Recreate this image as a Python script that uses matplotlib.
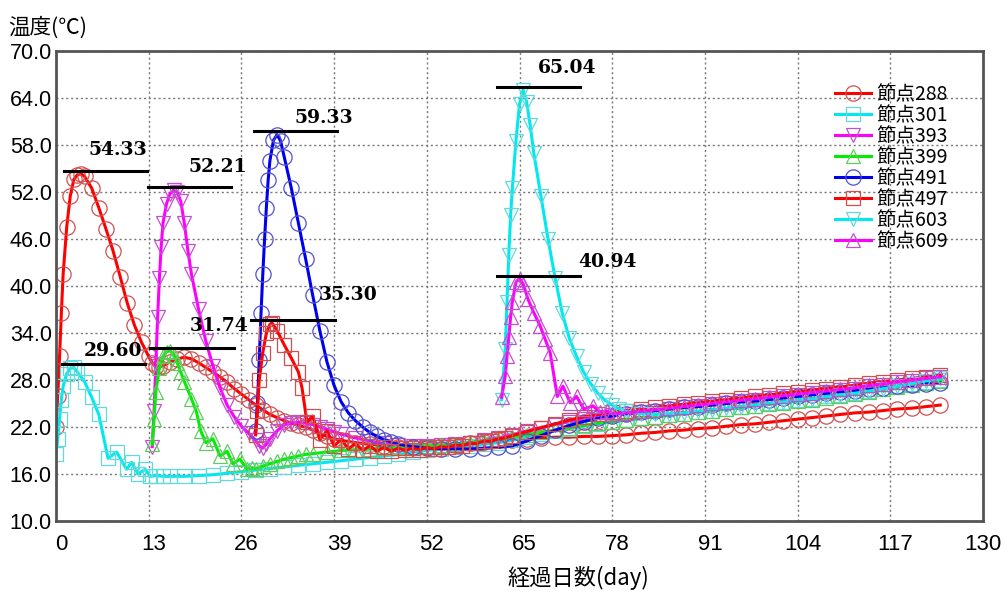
import matplotlib
matplotlib.use("Agg")
import matplotlib.pyplot as plt
import matplotlib.transforms as mtransforms
import numpy as np

plt.rcParams['font.family'] = ['Noto Sans CJK JP', 'DejaVu Sans']

# ---- データ ----
d288 = [0, 0.25, 0.5, 0.75, 1, 1.5, 2, 2.5, 3, 3.5, 4, 5, 6, 7, 8, 9, 10, 11, 12, 13,
        13.5, 14, 14.5, 15, 16, 17, 18, 19, 20, 21, 22, 23, 24, 25, 26, 27, 28, 29, 30,
        31, 32, 33, 34, 35, 36, 37, 38, 39, 40, 42, 44, 46, 48, 50, 52, 54, 56, 58, 60,
        62, 64, 66, 68, 70, 72, 74, 76, 78, 80, 82, 84, 86, 88, 90, 92, 94, 96, 98, 100,
        102, 104, 106, 108, 110, 112, 114, 116, 118, 120, 122, 124]
t288 = [22.0, 26.0, 31.0, 36.5, 41.5, 47.5, 51.5, 53.6, 54.2, 54.33, 54.0, 52.5, 50.0, 47.3,
        44.5, 41.2, 37.8, 35.0, 32.8, 31.0, 30.2, 29.8, 29.7, 29.8, 30.3, 30.7, 30.9, 30.7,
        30.2, 29.6, 29.0, 28.4, 27.7, 26.9, 26.2, 25.5, 24.8, 24.2, 23.6, 23.2, 22.8, 22.5,
        22.2, 22.0, 21.6, 21.2, 20.8, 20.5, 20.3, 20.0, 19.8, 19.6, 19.5, 19.5, 19.5, 19.6,
        19.7, 19.9, 20.1, 20.3, 20.4, 20.5, 20.6, 20.7, 20.7, 20.8, 20.8, 20.9, 21.0, 21.2,
        21.3, 21.5, 21.6, 21.8, 21.9, 22.1, 22.3, 22.4, 22.6, 22.8, 23.0, 23.2, 23.4, 23.6,
        23.8, 23.9, 24.1, 24.3, 24.4, 24.6, 24.8]

d301 = [0, 0.25, 0.5, 0.75, 1, 1.5, 2, 2.5, 3, 4, 5, 6, 7.3, 8.5, 9.9, 10.6, 11.5, 12.5,
        13.2, 14, 15, 16, 18, 20, 22, 24, 26, 28, 30, 32, 34, 36, 38, 40, 42, 44, 46, 48,
        50, 52, 54, 56, 58, 60, 62, 64, 66, 68, 70, 72, 74, 76, 78, 80, 82, 84, 86, 88, 90,
        92, 94, 96, 98, 100, 102, 104, 106, 108, 110, 112, 114, 116, 118, 120, 122, 124]
t301 = [18.5, 20.5, 23.0, 25.5, 27.2, 28.8, 29.5, 29.6, 29.0, 27.8, 25.8, 23.6, 18.0, 18.8,
        16.6, 17.5, 16.0, 16.6, 15.7, 15.8, 15.7, 15.7, 15.7, 15.8, 15.9, 16.1, 16.3, 16.5,
        16.7, 16.9, 17.1, 17.3, 17.5, 17.7, 17.9, 18.1, 18.3, 18.5, 18.8, 19.0, 19.2, 19.4,
        19.6, 19.8, 20.0, 20.3, 20.7, 21.1, 21.5, 21.8, 22.1, 22.4, 22.7, 22.9, 23.1, 23.3,
        23.5, 23.7, 23.9, 24.1, 24.3, 24.5, 24.7, 25.0, 25.2, 25.4, 25.6, 25.9, 26.1, 26.4,
        26.6, 26.9, 27.2, 27.5, 27.8, 28.0]

d393 = [13.5, 13.75, 14, 14.25, 14.5, 14.75, 15, 15.5, 16, 16.5, 17, 17.5, 18, 18.5, 19, 20,
        21, 22, 23, 24, 25, 26, 27, 28, 28.5, 29, 29.5, 30, 31, 32, 33, 34, 35, 36, 37, 38,
        39, 40, 42, 44, 46, 48, 50, 52, 54, 56, 58, 60, 62, 64, 66, 68, 70, 72, 74, 76, 78,
        80, 82, 84, 86, 88, 90, 92, 94, 96, 98, 100, 102, 104, 106, 108, 110, 112, 114, 116,
        118, 120, 122, 124]
t393 = [19.5, 24.0, 30.0, 36.0, 41.0, 45.0, 48.0, 50.5, 51.8, 52.21, 52.0, 50.8, 48.0, 44.5,
        41.5, 37.0, 33.0, 29.8, 27.0, 24.8, 23.3, 22.1, 21.2, 20.3, 19.6, 19.3, 19.8, 20.5,
        21.5, 22.3, 22.5, 22.6, 22.5, 22.3, 22.0, 21.7, 21.4, 21.1, 20.6, 20.2, 19.9, 19.7,
        19.6, 19.6, 19.7, 19.8, 20.0, 20.3, 20.6, 21.0, 21.5, 21.9, 22.3, 22.7, 23.0, 23.3,
        23.5, 23.7, 23.9, 24.1, 24.3, 24.5, 24.7, 24.9, 25.1, 25.3, 25.5, 25.7, 25.9, 26.1,
        26.3, 26.5, 26.7, 26.9, 27.2, 27.4, 27.7, 27.9, 28.2, 28.4]

d399 = [13.5, 13.75, 14, 14.5, 15, 15.5, 16, 16.5, 17, 17.5, 18, 19, 19.7, 20.3, 21, 22, 23,
        24, 24.8, 25.8, 26.8, 27.5, 28, 29, 30, 31, 32, 33, 34, 35, 36, 38, 40, 42, 44, 46,
        48, 50, 52, 54, 56, 58, 60, 62, 64, 66, 68, 70, 72, 74, 76, 78, 80, 82, 84, 86, 88,
        90, 92, 94, 96, 98, 100, 102, 104, 106, 108, 110, 112, 114, 116, 118, 120, 122, 124]
t399 = [19.8, 23.0, 26.5, 29.5, 31.0, 31.6, 31.74, 31.2, 30.2, 29.0, 27.8, 25.6, 23.9, 21.5,
        20.0, 20.5, 18.3, 18.9, 17.3, 17.9, 16.6, 16.8, 16.7, 17.0, 17.3, 17.6, 17.9, 18.1,
        18.3, 18.5, 18.6, 18.8, 19.0, 19.1, 19.2, 19.3, 19.4, 19.5, 19.6, 19.7, 19.8, 20.0,
        20.2, 20.4, 20.7, 21.0, 21.3, 21.6, 21.9, 22.2, 22.5, 22.7, 22.9, 23.1, 23.3, 23.5,
        23.7, 23.9, 24.1, 24.3, 24.5, 24.7, 24.9, 25.1, 25.3, 25.5, 25.7, 26.0, 26.2, 26.5,
        26.8, 27.1, 27.4, 27.6, 27.9]

d491 = [28, 28.25, 28.5, 28.75, 29, 29.25, 29.5, 29.75, 30, 30.5, 31, 31.5, 32, 33, 34, 35,
        36, 37, 38, 39, 40, 41, 42, 43, 44, 45, 46, 47, 48, 50, 52, 54, 56, 58, 60, 62, 64,
        66, 68, 70, 72, 74, 76, 78, 80, 82, 84, 86, 88, 90, 92, 94, 96, 98, 100, 102, 104,
        106, 108, 110, 112, 114, 116, 118, 120, 122, 124]
t491 = [21.5, 25.0, 30.5, 36.5, 41.5, 46.0, 50.0, 53.5, 56.0, 58.6, 59.33, 58.5, 56.5, 52.5,
        48.0, 43.5, 38.8, 34.3, 30.3, 27.3, 25.2, 23.8, 22.8, 22.0, 21.3, 20.8, 20.4, 20.1,
        19.8, 19.5, 19.3, 19.2, 19.2, 19.2, 19.3, 19.4, 19.6, 20.2, 20.9, 21.6, 22.2, 22.7,
        23.1, 23.4, 23.7, 23.9, 24.1, 24.3, 24.5, 24.6, 24.8, 25.0, 25.2, 25.3, 25.5, 25.7,
        25.9, 26.1, 26.3, 26.5, 26.6, 26.8, 27.0, 27.2, 27.3, 27.5, 27.6]

d497 = [28, 28.25, 28.5, 29, 29.5, 30, 30.3, 31, 32, 33, 34, 34.5, 35.2, 36, 37, 38, 39, 40,
        41, 42, 43, 44, 45, 46, 47, 48, 49, 50, 51, 52, 53, 54, 55, 56, 57, 58, 59, 60, 61,
        62, 63, 64, 66, 68, 70, 72, 74, 76, 78, 80, 82, 84, 86, 88, 90, 92, 94, 96, 98, 100,
        102, 104, 106, 108, 110, 112, 114, 116, 118, 120, 122, 124]
t497 = [21.0, 24.0, 28.0, 31.5, 34.0, 35.1, 35.3, 34.3, 32.5, 30.8, 29.0, 27.0, 22.6, 23.4,
        20.4, 21.5, 19.6, 20.4, 19.2, 19.9, 19.0, 19.6, 18.9, 19.4, 18.9, 19.3, 19.0, 19.3,
        19.1, 19.4, 19.2, 19.5, 19.4, 19.7, 19.6, 19.9, 19.9, 20.2, 20.2, 20.5, 20.6, 20.9,
        21.4, 21.9, 22.4, 22.9, 23.3, 23.6, 23.9, 24.1, 24.3, 24.5, 24.7, 24.9, 25.1, 25.3,
        25.5, 25.7, 25.9, 26.1, 26.3, 26.5, 26.7, 26.9, 27.1, 27.3, 27.6, 27.8, 28.0, 28.2,
        28.4, 28.6]

d603 = [62.5, 63, 63.25, 63.5, 63.75, 64, 64.5, 65, 65.5, 66, 66.5, 67, 68, 69, 70, 71, 72,
        73, 74, 75, 76, 77, 78, 79, 80, 82, 84, 86, 88, 90, 92, 94, 96, 98, 100, 102, 104,
        106, 108, 110, 112, 114, 116, 118, 120, 122, 124]
t603 = [25.5, 32.0, 38.0, 44.0, 49.0, 52.5, 58.5, 63.2, 65.04, 63.5, 60.5, 57.0, 51.5, 46.0,
        41.0, 36.5, 33.3, 31.0, 29.0, 27.5, 26.3, 25.4, 24.8, 24.3, 24.0, 23.7, 23.6, 23.7,
        23.8, 24.0, 24.2, 24.4, 24.6, 24.8, 25.0, 25.2, 25.4, 25.6, 25.8, 26.1, 26.3, 26.6,
        26.9, 27.2, 27.5, 27.9, 28.2]

d609 = [62.5, 63, 63.25, 63.5, 63.75, 64, 64.5, 65, 65.5, 66.2, 67, 67.9, 68.6, 69.3, 70.3,
        71.1, 72.1, 73, 74, 75.3, 76.3, 77.3, 78, 80, 82, 84, 86, 88, 90, 92, 94, 96, 98,
        100, 102, 104, 106, 108, 110, 112, 114, 116, 118, 120, 122, 124]
t609 = [25.8, 28.5, 31.0, 33.5, 36.0, 38.0, 40.5, 40.94, 40.3, 38.3, 36.6, 34.9, 33.2, 31.5,
        25.9, 27.2, 25.1, 25.9, 24.3, 24.7, 23.9, 24.0, 23.7, 23.8, 24.0, 24.2, 24.4, 24.6,
        24.8, 25.0, 25.2, 25.4, 25.6, 25.8, 26.0, 26.2, 26.4, 26.6, 26.8, 27.0, 27.3, 27.5,
        27.8, 28.0, 28.2, 28.4]

labels = ["節点288", "節点301", "節点393", "節点399", "節点491", "節点497", "節点603", "節点609"]

# ピーク値の注記
peak_values = [54.33, 52.21, 29.60, 31.74, 59.33, 35.30, 65.04, 40.94]
peak_line_start = [1.1, 12.9, 0.8, 13.2, 27.7, 27.4, 61.8, 61.8]
peak_label_x = [8.7, 22.7, 8.0, 22.9, 37.6, 41.0, 71.7, 77.3]
peak_label_dy = [3.0, 3.0, 2.1, 3.2, 2.1, 3.5, 2.8, 2.1]

xticks = np.arange(0, 131, 13)
yticks = np.arange(10, 71, 6)

# ---- 描画 ----
series = [(d288, t288), (d301, t301), (d393, t393), (d399, t399),
          (d491, t491), (d497, t497), (d603, t603), (d609, t609)]
line_colors = ["#ff0000", "#00e8f0", "#ff00ff", "#00ee00", "#0000ee", "#ff0000", "#00e8f0", "#ff00ff"]
mk_colors = ["#d05050", "#60dada", "#c050d0", "#60cc60", "#5050d0", "#d05050", "#60dada", "#c050d0"]
markers = ["o", "s", "v", "^", "o", "s", "v", "^"]
msizes = [11, 10, 10, 10, 11, 10, 10, 10]

fig = plt.figure(figsize=(10.05, 5.94), dpi=100)
ax = fig.add_axes([56 / 1005, 1 - 521 / 594, (983 - 56) / 1005, (521 - 51) / 594])

for (d, t), lc, mc, mk, ms, lab in zip(series, line_colors, mk_colors, markers, msizes, labels):
    ax.plot(d, t, color=lc, lw=2.2, marker=mk, ms=ms, mfc="none", mec=mc, mew=0.9, label=lab)

for v, x0, lx, dy in zip(peak_values, peak_line_start, peak_label_x, peak_label_dy):
    ax.plot([x0, x0 + 11.7], [v + 0.4, v + 0.4], color="black", lw=2.2)
    ax.text(lx, v + dy, f"{v:.2f}", ha="center", va="center", fontsize=13.5,
            fontweight="bold", family=["DejaVu Serif"])

ax.set_xlim(0, 130)
ax.set_ylim(10, 70)
ax.set_xticks(xticks)
ax.set_yticks(yticks)
ax.set_yticklabels([f"{y:.1f}" for y in yticks], fontsize=15.5, family=["Liberation Sans", "DejaVu Sans"])
ax.set_xticklabels([str(x) for x in xticks], fontsize=16, family=["Liberation Sans Narrow", "Liberation Sans"])
ax.tick_params(length=0)
ax.tick_params(axis="x", pad=9)
ax.tick_params(axis="y", pad=3)
# 目盛ラベルを少し右へ（最後の130は枠内に収める）
shift = mtransforms.ScaledTranslation(5 / 100, 0, fig.dpi_scale_trans)
for lbl in ax.get_xticklabels()[:-1]:
    lbl.set_transform(lbl.get_transform() + shift)
ax.grid(color="#777777", linestyle=(0, (1.5, 2)), linewidth=1)
for sp in ax.spines.values():
    sp.set_color("#555555")
    sp.set_linewidth(2)

fig.text(8 / 1005, 1 - 28 / 594, "温度(℃)", fontsize=15.5, va="center", ha="left")
fig.text(578 / 1005, 1 - 578 / 594, "経過日数(day)", fontsize=16, va="center", ha="center")

ax.legend(loc="upper left", bbox_to_anchor=(835 / 1005, 1 - 84 / 594), bbox_transform=fig.transFigure,
          frameon=False, fontsize=14, handlelength=1.85, handletextpad=0.25, labelspacing=0.0,
          borderaxespad=0, borderpad=0)

plt.savefig("out.png", dpi=100)
plt.close()
